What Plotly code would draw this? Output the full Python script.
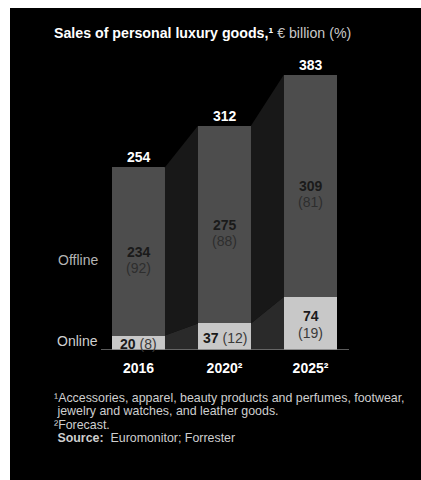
import plotly.graph_objects as go

# Sales of personal luxury goods, € billion (share of total, %)
years = ["2016", "2020", "2025"]
year_notes = ["", "2", "2"]
offline = [234, 275, 309]
online = [20, 37, 74]
totals = [254, 312, 383]
offline_pct = [92, 88, 81]
online_pct = [8, 12, 19]

footnotes = [
    "¹Accessories, apparel, beauty products and perfumes, footwear,",
    " jewelry and watches, and leather goods.",
    "²Forecast.",
    " <b>Source:</b>  Euromonitor; Forrester",
]

W, H = 421, 480
FONT = "Liberation Sans, Arial, sans-serif"
OFFLINE_C = "#4d4d4d"
ONLINE_C = "#c8c8c8"
OFF_LINK_C = "#181818"
ON_LINK_C = "#2a2a2a"

x = list(range(len(years)))
bar_w = 0.616

fig = go.Figure()

# connectors between neighbouring bars
for i in range(len(years) - 1):
    x0 = x[i] + bar_w / 2
    x1 = x[i + 1] - bar_w / 2
    fig.add_trace(go.Scatter(
        x=[x0, x1, x1, x0, x0],
        y=[totals[i], totals[i + 1], online[i + 1], online[i], totals[i]],
        fill="toself", fillcolor=OFF_LINK_C, mode="lines",
        line=dict(width=0), hoverinfo="skip", showlegend=False))
    fig.add_trace(go.Scatter(
        x=[x0, x1, x1, x0, x0],
        y=[online[i], online[i + 1], 0, 0, online[i]],
        fill="toself", fillcolor=ON_LINK_C, mode="lines",
        line=dict(width=0), hoverinfo="skip", showlegend=False))

fig.add_trace(go.Bar(x=x, y=online, width=bar_w, marker=dict(color=ONLINE_C, line=dict(width=0)),
                     name="Online", showlegend=False, hoverinfo="skip"))
fig.add_trace(go.Bar(x=x, y=offline, width=bar_w, marker=dict(color=OFFLINE_C, line=dict(width=0)),
                     name="Offline", showlegend=False, hoverinfo="skip"))

ann = []
for i in x:
    # totals above bars
    ann.append(dict(x=i, y=totals[i], text=f"<b>{totals[i]}</b>", showarrow=False,
                    yanchor="middle", yshift=10, font=dict(size=14, color="#ffffff")))
    # offline values
    mid = online[i] + offline[i] / 2
    ann.append(dict(x=i, y=mid, text=f"<b>{offline[i]}</b>", showarrow=False,
                    yanchor="middle", yshift=0, font=dict(size=14, color="#1a1a1a")))
    ann.append(dict(x=i, y=mid, text=f"({offline_pct[i]})", showarrow=False,
                    yanchor="middle", yshift=-16, font=dict(size=14, color="#2e2e2e")))
    # online values
    omid = online[i] / 2
    if online[i] >= 50:
        ann.append(dict(x=i, y=omid, text=f"<b>{online[i]}</b>", showarrow=False,
                        yanchor="middle", yshift=7, font=dict(size=14, color="#1a1a1a")))
        ann.append(dict(x=i, y=omid, text=f"({online_pct[i]})", showarrow=False,
                        yanchor="middle", yshift=-10, font=dict(size=14, color="#3a3a3a")))
    else:
        ann.append(dict(x=i, y=omid, text=f"<b>{online[i]}</b> <span style='color:#3a3a3a'>({online_pct[i]})</span>",
                        showarrow=False, yanchor="middle", yshift=-1,
                        font=dict(size=14, color="#1a1a1a")))

# row labels
ann.append(dict(x=100 / W, y=offline[0] / 2 + online[0], xref="paper", yref="y", text="Offline",
                showarrow=False, xanchor="right", yanchor="middle", yshift=-8,
                font=dict(size=14, color="#b4b4b4")))
ann.append(dict(x=100 / W, y=online[0] / 2, xref="paper", yref="y", text="Online",
                showarrow=False, xanchor="right", yanchor="middle", yshift=2,
                font=dict(size=14, color="#d0d0d0")))

# title
ann.append(dict(x=52 / W, y=1 - 33 / H, xref="paper", yref="paper",
                text="<b>Sales of personal luxury goods,¹</b> <span style='color:#c8c8c8'>€ billion (%)</span>",
                showarrow=False, xanchor="left", yanchor="middle",
                font=dict(size=14.2, color="#ffffff")))

# footnotes
for k, line in enumerate(footnotes):
    ann.append(dict(x=52 / W, y=1 - (398 + 13.3 * k) / H, xref="paper", yref="paper",
                    text=line, showarrow=False, xanchor="left", yanchor="middle",
                    font=dict(size=12.4, color="#cfcfcf")))

tick_text = [f"<b>{y}{'²' if n else ''}</b>" for y, n in zip(years, year_notes)]

px_per_unit = 0.719
fig.update_layout(
    width=W, height=H,
    margin=dict(l=0, r=0, t=0, b=0),
    paper_bgcolor="#ffffff",
    plot_bgcolor="rgba(0,0,0,0)",
    barmode="stack", bargap=0,
    font=dict(family=FONT),
    annotations=ann,
    shapes=[
        dict(type="rect", xref="paper", yref="paper", x0=10 / W, x1=1, y0=0, y1=1 - 8 / H,
             fillcolor="#000000", line=dict(width=0), layer="below"),
        dict(type="line", xref="paper", yref="y", x0=101 / W, x1=349 / W, y0=0, y1=0,
             line=dict(color="#7a7a7a", width=1.5), layer="above"),
    ],
    xaxis=dict(range=[-138.5 / 86, (W - 138.5) / 86], tickvals=x, ticktext=tick_text,
               tickfont=dict(size=14, color="#ffffff", family=FONT),
               showgrid=False, zeroline=False, showline=False, ticks="",
               ticklabelstandoff=8, fixedrange=True),
    yaxis=dict(domain=[(H - 350) / H, 1], range=[0, 350 / px_per_unit], visible=False,
               fixedrange=True),
)

fig.write_html("out.html")
